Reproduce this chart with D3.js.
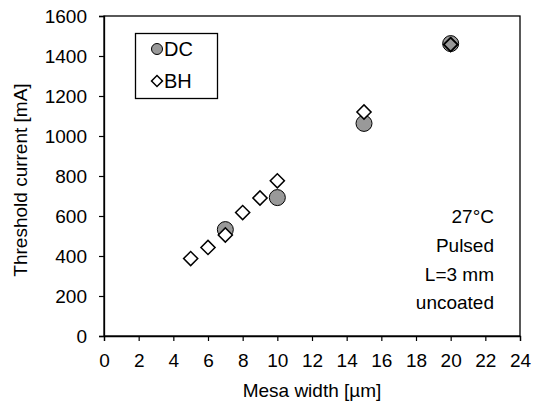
<!DOCTYPE html>
<html>
<head>
<meta charset="utf-8">
<script src="https://cdn.jsdelivr.net/npm/d3@7"></script>
<style>
  body { margin: 0; background: #fff; }
  svg text { font-family: Arial, "Liberation Sans", sans-serif; fill: #000; }
</style>
</head>
<body>
<div class="chart"></div>
<script>
// DC series
const dcWidth = [7, 10, 15, 20]
const dcCurrent = [532, 692, 1063, 1462]

// BH series
const bhWidth = [5, 6, 7, 8, 9, 10, 15, 20]
const bhCurrent = [387, 443, 505, 617, 690, 776, 1120, 1457]

const xTicks = [0, 2, 4, 6, 8, 10, 12, 14, 16, 18, 20, 22, 24]
const yTicks = [0, 200, 400, 600, 800, 1000, 1200, 1400, 1600]

const notes = ['27°C', 'Pulsed', 'L=3 mm', 'uncoated']

const W = 534
const H = 407
const margin = { top: 16, right: 14, bottom: 71, left: 104 }
const FS = 19

const svg = d3
  .select('.chart')
  .append('svg')
  .attr('width', W)
  .attr('height', H)

const x = d3.scaleLinear().domain([0, 24]).range([margin.left, W - margin.right])
const y = d3.scaleLinear().domain([0, 1600]).range([H - margin.bottom, margin.top])

// frame
svg
  .append('rect')
  .attr('x', x(0))
  .attr('y', y(1600))
  .attr('width', x(24) - x(0))
  .attr('height', y(0) - y(1600))
  .attr('fill', 'none')
  .attr('stroke', '#000')
  .attr('stroke-width', 1.3)

const xAxis = svg
  .append('g')
  .attr('transform', `translate(0,${y(0)})`)
  .call(d3.axisBottom(x).tickValues(xTicks).tickFormat(d3.format('d')).tickSize(5).tickPadding(13))

const yAxis = svg
  .append('g')
  .attr('transform', `translate(${x(0)},0)`)
  .call(d3.axisLeft(y).tickValues(yTicks).tickFormat(d3.format('d')).tickSize(5).tickPadding(12))

;[xAxis, yAxis].forEach(g => {
  g.select('.domain').attr('stroke', '#000').attr('stroke-width', 1.3)
  g.selectAll('.tick line').attr('stroke', '#000').attr('stroke-width', 1.2)
  g.selectAll('.tick text')
    .attr('font-size', FS)
    .attr('font-family', 'Arial, "Liberation Sans", sans-serif')
    .attr('fill', '#000')
})

// axis titles
svg
  .append('text')
  .attr('x', (x(0) + x(24)) / 2)
  .attr('y', 397)
  .attr('text-anchor', 'middle')
  .attr('font-size', FS)
  .text('Mesa width [µm]')

svg
  .append('text')
  .attr('transform', `translate(27,${(y(0) + y(1600)) / 2 + 4}) rotate(-90)`)
  .attr('text-anchor', 'middle')
  .attr('font-size', FS)
  .text('Threshold current [mA]')

const diamond = d3.symbol().type(d3.symbolSquare)

// DC circles
svg
  .append('g')
  .selectAll('circle')
  .data(dcWidth)
  .join('circle')
  .attr('cx', d => x(d))
  .attr('cy', (d, i) => y(dcCurrent[i]))
  .attr('r', 8)
  .attr('fill', '#999')
  .attr('stroke', '#000')
  .attr('stroke-width', 1)

// BH diamonds
svg
  .append('g')
  .selectAll('path')
  .data(bhWidth)
  .join('path')
  .attr('d', diamond.size(100))
  .attr('transform', (d, i) => `translate(${x(d)},${y(bhCurrent[i])}) rotate(45)`)
  .attr('fill', '#fff')
  .attr('stroke', '#000')
  .attr('stroke-width', 1.5)

// the diamond at 20 shows gray through, as in the original
svg
  .append('path')
  .attr('d', diamond.size(90))
  .attr('transform', `translate(${x(bhWidth[7])},${y(bhCurrent[7])}) rotate(45)`)
  .attr('fill', '#999')
  .attr('stroke', '#000')
  .attr('stroke-width', 1.5)

// legend
const lg = svg.append('g')
lg.append('rect')
  .attr('x', 135.5)
  .attr('y', 33.5)
  .attr('width', 82)
  .attr('height', 65)
  .attr('fill', '#fff')
  .attr('stroke', '#000')
  .attr('stroke-width', 1.3)

lg.append('circle')
  .attr('cx', 157)
  .attr('cy', 49)
  .attr('r', 5.5)
  .attr('fill', '#999')
  .attr('stroke', '#000')
lg.append('path')
  .attr('d', diamond.size(60))
  .attr('transform', 'translate(157,81) rotate(45)')
  .attr('fill', '#fff')
  .attr('stroke', '#000')
  .attr('stroke-width', 1.5)
lg.append('text').attr('x', 164).attr('y', 56).attr('font-size', 20).text('DC')
lg.append('text').attr('x', 164).attr('y', 88).attr('font-size', 20).text('BH')

// notes
svg
  .append('g')
  .selectAll('text')
  .data(notes)
  .join('text')
  .attr('x', 494)
  .attr('y', (d, i) => 223 + i * 28.8)
  .attr('text-anchor', 'end')
  .attr('font-size', FS)
  .text(d => d)
</script>
</body>
</html>
